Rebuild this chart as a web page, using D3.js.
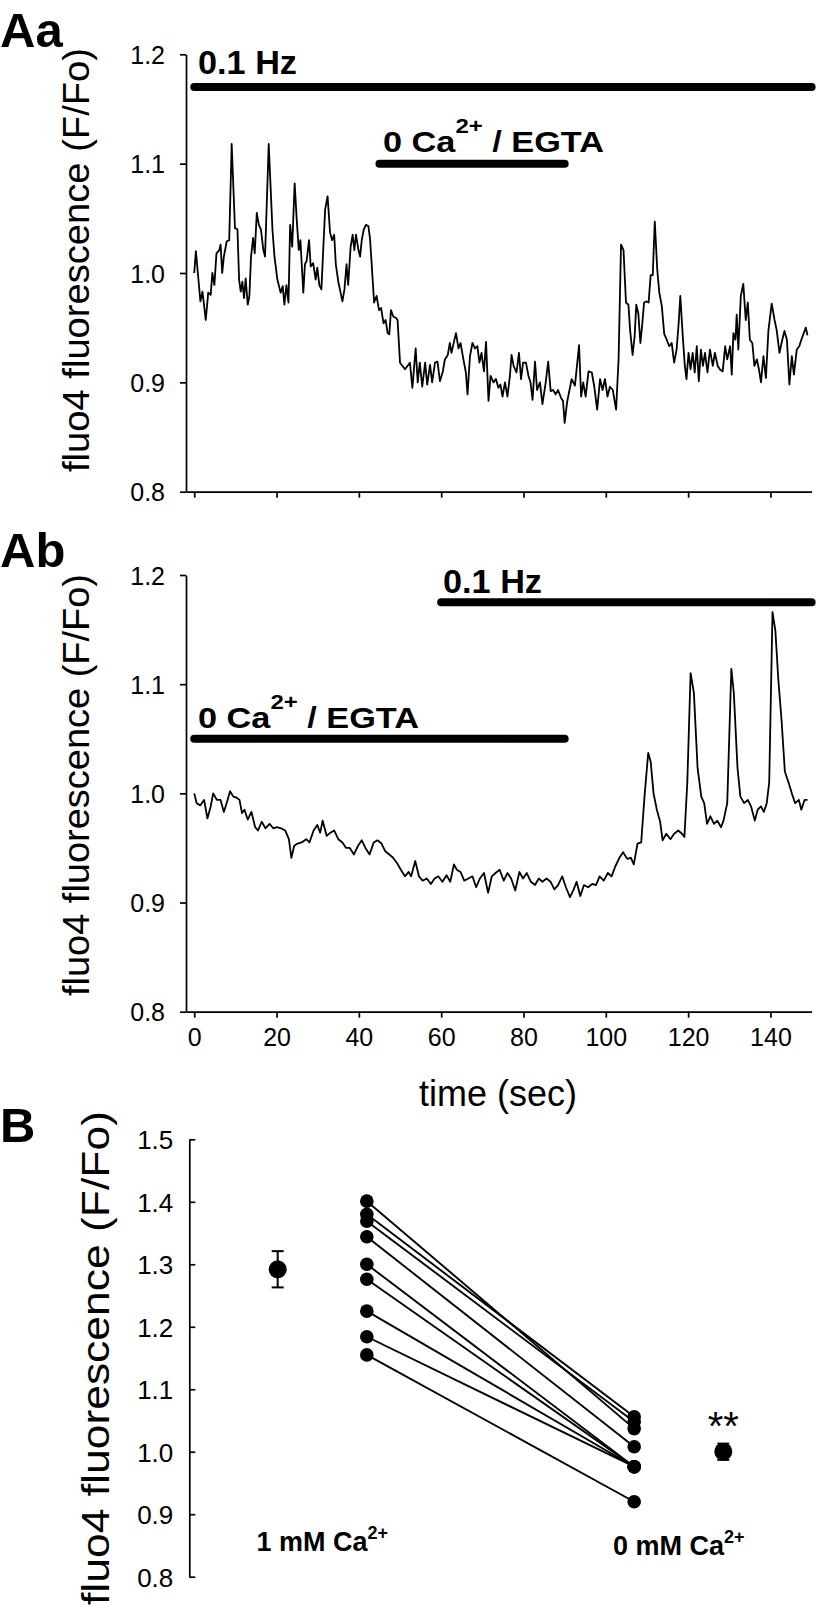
<!DOCTYPE html>
<html>
<head>
<meta charset="utf-8">
<script src="https://cdn.jsdelivr.net/npm/d3@7"></script>
<style>
  body { margin: 0; background: #fff; }
  svg { display: block; }
  text { font-family: "Liberation Sans", Arial, sans-serif; fill: #000; }
</style>
</head>
<body>
<script>
// ---------------- DATA ----------------
// Panel Aa trace (time in s, F/Fo)
const timeAa = [0,0.4,1.0,1.5,2.0,2.8,3.4,4.0,4.4,4.9,5.4,6.1,6.4,6.8,7.2,7.9,8.5,9.1,9.9,10.5,10.9,11.3,11.7,12.1,12.5,13.0,13.4,13.8,14.3,14.7,15.2,15.7,16.2,16.8,17.2,18.1,19.0,19.5,20.2,20.6,21.0,21.5,21.9,22.4,22.9,23.3,23.8,24.4,24.9,25.4,25.8,26.5,26.9,27.3,27.9,28.3,28.9,29.5,29.9,30.4,30.9,31.3,31.8,32.4,33.0,33.5,34.0,34.4,35.0,35.4,36.0,36.5,37.0,37.4,38.0,38.5,38.9,39.3,39.9,40.3,40.7,41.2,41.7,42.3,42.7,43.1,43.7,44.3,44.9,45.4,46.0,46.5,47.0,47.4,47.8,48.4,49.0,49.4,50.0,50.6,51.2,51.8,52.4,53.0,53.8,54.3,54.8,55.4,56.1,56.6,57.3,57.8,58.5,59.1,59.7,60.4,60.9,61.6,62.1,62.5,63.1,63.6,64.2,64.7,65.4,66.0,66.4,67.0,67.6,68.2,68.8,69.3,69.8,70.4,70.9,71.5,72.0,72.7,73.3,73.9,74.4,74.9,75.5,76.1,76.7,77.1,77.6,78.3,78.9,79.4,79.9,80.6,81.2,81.7,82.2,82.8,83.3,84.0,84.6,85.4,86.0,86.6,87.2,87.8,88.4,89.1,89.6,90.0,90.6,91.7,92.5,93.5,94.0,94.5,95.1,95.8,96.6,97.2,97.9,98.6,99.2,99.8,100.4,101.0,101.7,102.5,103.1,103.7,104.3,104.9,105.5,105.9,106.5,107.0,107.4,107.9,108.4,108.8,109.3,109.9,110.4,110.9,111.4,111.9,112.5,113.0,113.6,114.2,114.8,115.4,116.0,116.6,117.2,117.7,118.1,118.7,119.2,119.6,120.1,120.6,121.1,121.6,122.1,122.6,123.1,123.6,124.1,124.7,125.3,126.0,126.5,127.2,127.7,128.4,129.0,129.5,130.2,130.6,131.0,131.5,131.8,132.2,132.8,133.4,134.0,134.5,135.0,135.6,136.1,136.7,137.2,137.7,138.3,138.9,139.5,140.3,141.0,141.5,142.2,142.7,143.4,144.0,144.6,145.2,145.7,146.4,147.0,147.6,148.1,148.6,149.0];
const valueAa = [1.000,1.020,0.995,0.974,0.983,0.957,0.982,0.980,1.000,0.989,1.018,1.021,1.026,1.000,1.015,1.029,1.030,1.118,1.041,1.040,0.994,0.983,0.992,0.977,0.995,0.971,0.979,1.015,1.032,1.018,1.055,1.044,1.040,1.021,1.015,1.118,1.040,1.015,0.994,0.988,0.982,0.988,0.971,0.989,0.973,1.044,1.024,1.082,1.049,1.021,1.030,0.982,1.008,1.011,1.030,1.006,1.009,0.994,1.005,0.989,0.985,1.018,1.058,1.070,1.037,1.030,1.035,1.008,0.992,0.985,0.974,0.985,1.008,0.989,1.024,1.035,1.021,1.035,1.021,1.015,1.030,1.040,1.044,1.043,1.032,1.009,0.973,0.979,0.966,0.968,0.954,0.957,0.945,0.944,0.966,0.960,0.959,0.957,0.918,0.915,0.912,0.915,0.918,0.895,0.931,0.900,0.918,0.896,0.918,0.898,0.916,0.900,0.918,0.919,0.901,0.910,0.921,0.925,0.936,0.927,0.937,0.945,0.931,0.936,0.921,0.909,0.889,0.924,0.936,0.931,0.933,0.918,0.927,0.910,0.937,0.883,0.906,0.900,0.903,0.895,0.898,0.887,0.900,0.887,0.906,0.925,0.915,0.909,0.927,0.903,0.918,0.918,0.906,0.900,0.884,0.919,0.893,0.900,0.880,0.900,0.919,0.892,0.893,0.889,0.893,0.886,0.883,0.863,0.882,0.903,0.897,0.934,0.887,0.900,0.887,0.910,0.909,0.896,0.875,0.903,0.893,0.903,0.887,0.896,0.893,0.875,0.921,1.026,1.021,0.973,0.971,0.948,0.925,0.942,0.971,0.963,0.936,0.951,0.973,0.974,0.973,0.998,0.998,1.047,1.003,0.982,0.970,0.944,0.939,0.933,0.936,0.918,0.930,0.954,0.979,0.942,0.915,0.903,0.927,0.912,0.927,0.909,0.933,0.901,0.930,0.915,0.927,0.909,0.930,0.915,0.927,0.915,0.912,0.910,0.933,0.921,0.933,0.907,0.945,0.939,0.962,0.930,0.979,0.990,0.957,0.973,0.939,0.936,0.915,0.921,0.912,0.900,0.924,0.904,0.947,0.972,0.957,0.948,0.927,0.936,0.947,0.939,0.898,0.924,0.907,0.930,0.933,0.940,0.945,0.950,0.943];

// Panel Ab trace
const timeAb = [0,0.6,1.5,2.4,3.2,4.0,4.6,5.5,6.4,7.2,8.1,8.7,9.5,10.3,11.0,11.6,12.2,13.0,13.9,14.8,15.5,16.4,17.3,18.3,19.2,20.1,21.1,22.1,23.0,23.6,24.3,25.1,26.1,27.2,28.0,29.0,29.9,30.6,31.2,32.2,33.1,34.0,35.0,36.0,36.9,37.8,38.8,39.8,40.7,41.6,42.6,43.6,44.5,45.5,46.4,47.4,48.3,49.3,50.2,51.2,52.1,52.7,53.7,54.6,55.5,56.5,57.5,58.4,59.3,60.3,61.3,62.2,63.1,63.8,64.7,65.6,66.6,67.6,68.5,69.4,70.4,71.4,72.3,73.2,74.2,75.2,76.1,77.0,78.0,79.0,79.9,80.8,81.8,82.8,83.7,84.6,85.6,86.6,87.5,88.4,89.4,90.3,91.3,92.2,92.9,93.8,94.7,95.7,96.7,97.6,98.5,99.5,100.5,101.4,102.3,103.3,104.2,105.2,106.1,106.8,107.7,108.6,109.4,110.3,110.9,111.6,112.4,113.2,113.8,114.7,115.7,116.6,117.6,118.5,119.1,119.8,120.6,121.4,122.3,123.2,123.9,124.6,125.4,126.3,127.1,128.0,128.6,129.5,130.5,131.1,132.0,132.7,133.6,134.5,135.3,136.2,136.9,137.7,138.4,139.1,139.7,140.5,141.2,141.9,142.7,143.5,144.4,145.2,146.0,146.9,147.5,148.3,149.0];
const valueAb = [1.000,0.991,0.989,0.994,0.977,0.988,1.000,0.994,0.994,0.983,0.994,1.002,0.997,0.996,0.994,0.982,0.985,0.976,0.983,0.969,0.966,0.974,0.968,0.972,0.968,0.969,0.968,0.966,0.958,0.941,0.952,0.954,0.955,0.958,0.955,0.966,0.971,0.964,0.975,0.961,0.964,0.966,0.958,0.955,0.950,0.950,0.944,0.952,0.957,0.950,0.944,0.955,0.957,0.954,0.947,0.944,0.941,0.936,0.930,0.924,0.928,0.924,0.938,0.924,0.920,0.922,0.917,0.922,0.924,0.919,0.925,0.919,0.935,0.930,0.928,0.920,0.922,0.924,0.914,0.922,0.927,0.909,0.924,0.927,0.930,0.920,0.927,0.922,0.911,0.928,0.922,0.927,0.919,0.916,0.922,0.919,0.922,0.919,0.912,0.916,0.924,0.914,0.905,0.912,0.919,0.906,0.916,0.914,0.917,0.916,0.924,0.920,0.927,0.924,0.933,0.941,0.946,0.940,0.941,0.935,0.954,0.955,0.997,1.037,1.029,1.000,0.985,0.974,0.957,0.963,0.958,0.963,0.966,0.963,0.960,1.010,1.110,1.092,1.023,0.997,0.991,0.972,0.979,0.972,0.975,0.969,0.975,0.991,1.114,1.092,1.023,0.997,0.991,0.994,0.988,0.975,0.985,0.988,0.983,0.991,1.010,1.166,1.149,1.105,1.067,1.020,1.010,1.000,0.991,0.994,0.985,0.994,0.994];

// Treatment bars: [start s, end s, level F/Fo]
const barsAa = [[0, 150, 1.17], [45, 90, 1.10]];
const barsAb = [[60, 150, 1.175], [0, 90, 1.05]];

// Axis ticks
const yTicksA = [0.8, 0.9, 1.0, 1.1, 1.2];
const xTicksA = [0, 20, 40, 60, 80, 100, 120, 140];
const yTicksB = [0.8, 0.9, 1.0, 1.1, 1.2, 1.3, 1.4, 1.5];

// Panel B: paired cells (1 mM Ca -> 0 mM Ca), and means ± SEM
const pairedCa1 = [1.401, 1.380, 1.369, 1.344, 1.300, 1.276, 1.225, 1.184, 1.155];
const pairedCa0 = [1.037, 1.056, 1.048, 1.008, 0.976, 0.976, 0.976, 0.976, 0.920];
const meanB = [1.292, 1.000];
const semB = [0.029, 0.013];
const posMean = [0, 5];
const posPaired = [1, 4];
const groupLabels = ["1 mM Ca", "0 mM Ca"];

// ---------------- DRAW ----------------
const W = 816, H = 1607;
const svg = d3.select("body").append("svg").attr("width", W).attr("height", H);

const xA = d3.scaleLinear().domain([-2, 150]).range([186, 811.6]);
const yAa = d3.scaleLinear().domain([0.8, 1.2]).range([491.7, 54.3]);
const yAb = d3.scaleLinear().domain([0.8, 1.2]).range([1011.7, 575]);
const yB = d3.scaleLinear().domain([0.8, 1.5]).range([1576.7, 1139.3]);
const xB = d3.scaleLinear().domain([0, 5]).range([277.7, 723.3]);

function styleAxis(g, fs) {
  g.attr("font-family", null).attr("font-size", null);
  g.selectAll("path.domain").attr("stroke", "#000").attr("stroke-width", 1.7);
  g.selectAll(".tick line").attr("stroke", "#000").attr("stroke-width", 1.7);
  g.selectAll(".tick text").style("font-size", fs + "px").attr("fill", "#000");
}

function tracePanel(y, times, vals, bars, showXLabels) {
  const gy = svg.append("g").attr("transform", `translate(186,0)`)
    .call(d3.axisLeft(y).tickValues(yTicksA).tickFormat(d3.format(".1f")).tickSize(6).tickSizeOuter(0).tickPadding(15));
  styleAxis(gy, 25);
  gy.selectAll(".tick text").attr("dy", "0.36em");
  const gx = svg.append("g").attr("transform", `translate(0,${y.range()[0]})`)
    .call(d3.axisBottom(xA).tickValues(xTicksA).tickFormat(showXLabels ? d3.format("d") : "").tickSize(6).tickSizeOuter(0).tickPadding(28));
  styleAxis(gx, 25);
  gx.selectAll(".tick text").attr("dy", "0");
  const line = d3.line().x(d => xA(d[0])).y(d => y(d[1]));
  svg.append("path").datum(d3.zip(times, vals))
    .attr("d", line).attr("fill", "none").attr("stroke", "#000")
    .attr("stroke-width", 1.8).attr("stroke-linejoin", "round");
  svg.selectAll(null).data(bars).enter().append("line")
    .attr("x1", d => xA(d[0])).attr("x2", d => xA(d[1]))
    .attr("y1", d => y(d[2])).attr("y2", d => y(d[2]))
    .attr("stroke", "#000").attr("stroke-width", 8).attr("stroke-linecap", "round");
}

tracePanel(yAa, timeAa, valueAa, barsAa, false);
tracePanel(yAb, timeAb, valueAb, barsAb, true);

function hzLabel(x, y) {
  svg.append("text").attr("x", x).attr("y", y)
    .attr("font-weight", "bold").style("font-size", "33px")
    .attr("textLength", 99).attr("lengthAdjust", "spacingAndGlyphs")
    .text("0.1 Hz");
}
function egtaLabel(x, y) {
  const t = svg.append("text").attr("x", x).attr("y", y)
    .attr("font-weight", "bold").style("font-size", "30px")
    .attr("textLength", 221).attr("lengthAdjust", "spacingAndGlyphs");
  t.append("tspan").text("0 Ca");
  t.append("tspan").attr("dy", -19).style("font-size", "21px").text("2+");
  t.append("tspan").attr("dy", 19).text(" / EGTA");
}
hzLabel(198, 74);
egtaLabel(383, 152);
hzLabel(443, 593);
egtaLabel(198, 728);

svg.append("text").attr("x", 498).attr("y", 1106).attr("text-anchor", "middle")
  .style("font-size", "36px").text("time (sec)");

function yTitle(x, y, fs, len) {
  svg.append("text").attr("transform", `translate(${x},${y}) rotate(-90)`)
    .attr("text-anchor", "middle").style("font-size", fs + "px")
    .attr("textLength", len).attr("lengthAdjust", "spacingAndGlyphs")
    .text("fluo4 fluorescence (F/Fo)");
}
yTitle(89, 260, 37, 424);
yTitle(89, 785, 37, 422);
yTitle(109, 1358, 38, 494);

function panelLetter(txt, x, y) {
  svg.append("text").attr("x", x).attr("y", y).attr("font-weight", "bold")
    .style("font-size", "49px").text(txt);
}
panelLetter("Aa", 0, 47);
panelLetter("Ab", 0, 567);
panelLetter("B", 0, 1142);

// ---------- Panel B ----------
const gB = svg.append("g").attr("transform", `translate(189.3,0)`)
  .call(d3.axisLeft(yB).tickValues(yTicksB).tickFormat(d3.format(".1f")).tickSize(-6).tickSizeOuter(0));
styleAxis(gB, 26);
gB.selectAll(".tick text").attr("x", -16).attr("dy", "0.36em");

const pairs = d3.zip(pairedCa1, pairedCa0);
svg.selectAll(null).data(pairs).enter().append("line")
  .attr("x1", xB(posPaired[0])).attr("x2", xB(posPaired[1]))
  .attr("y1", d => yB(d[0])).attr("y2", d => yB(d[1]))
  .attr("stroke", "#000").attr("stroke-width", 1.9);
svg.selectAll(null).data(pairedCa1).enter().append("circle")
  .attr("cx", xB(posPaired[0])).attr("cy", d => yB(d)).attr("r", 6.8).attr("fill", "#000");
svg.selectAll(null).data(pairedCa0).enter().append("circle")
  .attr("cx", xB(posPaired[1])).attr("cy", d => yB(d)).attr("r", 6.8).attr("fill", "#000");

const meanData = d3.zip(posMean, meanB, semB);
const mg = svg.selectAll(null).data(meanData).enter().append("g");
mg.append("line").attr("x1", d => xB(d[0])).attr("x2", d => xB(d[0]))
  .attr("y1", d => yB(d[1] + d[2])).attr("y2", d => yB(d[1] - d[2]))
  .attr("stroke", "#000").attr("stroke-width", 2);
mg.each(function(d) {
  const g = d3.select(this);
  [d[1] + d[2], d[1] - d[2]].forEach(v => {
    g.append("line").attr("x1", xB(d[0]) - 6).attr("x2", xB(d[0]) + 6)
      .attr("y1", yB(v)).attr("y2", yB(v)).attr("stroke", "#000").attr("stroke-width", 2);
  });
});
mg.append("circle").attr("cx", d => xB(d[0])).attr("cy", d => yB(d[1])).attr("r", 9).attr("fill", "#000");

svg.append("text").attr("x", xB(posMean[1])).attr("y", 1440).attr("text-anchor", "middle")
  .style("font-size", "40px").text("**");

function groupLabel(txt, cx, y) {
  const t = svg.append("text").attr("x", cx).attr("y", y).attr("text-anchor", "middle")
    .attr("font-weight", "bold").style("font-size", "27px");
  t.append("tspan").text(txt);
  t.append("tspan").attr("dy", -12).style("font-size", "18px").text("2+");
}
groupLabel(groupLabels[0], (xB(posMean[0]) + xB(posPaired[0])) / 2, 1551);
groupLabel(groupLabels[1], (xB(posMean[1]) + xB(posPaired[1])) / 2, 1555);
</script>
</body>
</html>
